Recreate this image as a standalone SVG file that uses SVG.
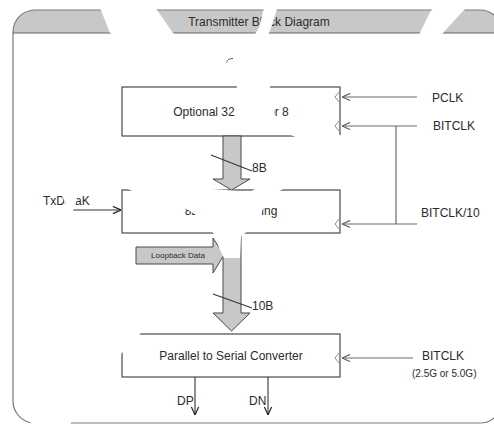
<svg xmlns="http://www.w3.org/2000/svg" width="494" height="425" viewBox="0 0 494 425">
<defs>
<style>
.box{fill:#fff;stroke:#4a4a4a;stroke-width:1.2}
.t{font-family:"Liberation Sans",Arial,sans-serif;fill:#2b2b2b;font-size:12px}
.clk{stroke:#6a6a6a;stroke-width:1.2;fill:none}
.chev{stroke:#8a8a8a;stroke-width:1;fill:none}
.big{fill:#c8c8c8;stroke:#4a4a4a;stroke-width:1}
.ln{stroke:#333;stroke-width:1.1;fill:none}
.wm{fill:#fff;stroke:none}
</style>
<marker id="ah" viewBox="0 0 10 10" refX="10" refY="5" markerWidth="9" markerHeight="9" markerUnits="userSpaceOnUse" orient="auto"><path d="M1,1 L10,5 L1,9" fill="none" stroke="#555" stroke-width="1.2"/></marker>
<marker id="ahd" viewBox="0 0 10 10" refX="10" refY="5" markerWidth="9" markerHeight="9" markerUnits="userSpaceOnUse" orient="auto"><path d="M1,1 L10,5 L1,9" fill="none" stroke="#222" stroke-width="1.3"/></marker>
</defs>
<rect width="494" height="425" fill="#fff"/>
<g id="frame">
<path d="M13,33 L13,32 A22,22 0 0 1 35,10 L480,10 A22,22 0 0 1 502,32 L502,33 Z" fill="#c8c8c8"/>
<rect x="13" y="10" width="489" height="413" rx="22" ry="22" fill="none" stroke="#7a7a7a" stroke-width="1.2"/>
<line x1="13" y1="33" x2="502" y2="33" stroke="#666" stroke-width="1.2"/>
<text class="t" x="259" y="26" text-anchor="middle">Transmitter Block Diagram</text>
<path d="M226.5,62.5 Q227.5,58.5 233,58.5" fill="none" stroke="#555" stroke-width="1"/>
</g>
<g id="box-optional">
<rect class="box" x="122" y="87" width="218" height="49"/>
<text class="t" x="231" y="116" text-anchor="middle">Optional 32 to 16 or 8</text>
<path class="chev" d="M339,92 L335,97 L339,102 M339,121 L335,126 L339,131"/>
</g>
<g id="box-encoding">
<rect class="box" x="122" y="190" width="218" height="43"/>
<text class="t" x="231" y="215" text-anchor="middle">8B/10B Encoding</text>
<path class="chev" d="M339,219 L335,224 L339,229"/>
</g>
<g id="box-p2s">
<rect class="box" x="122" y="334" width="218" height="43"/>
<text class="t" x="231" y="360" text-anchor="middle">Parallel to Serial Converter</text>
<path class="chev" d="M339,353 L335,358 L339,363"/>
</g>
<g id="connectors">
<path class="clk" d="M417,97 L342,97" marker-end="url(#ah)"/>
<path class="clk" d="M417,126 L342,126" marker-end="url(#ah)"/>
<path class="clk" d="M396,126 L396,224"/>
<path class="clk" d="M417,224 L342,224" marker-end="url(#ah)"/>
<path class="clk" d="M413,358 L342,358" marker-end="url(#ah)"/>
<path class="big" d="M223,136 L241,136 L241,179 L250,179 L231.5,190 L213,179 L223,179 Z"/>
<path class="big" d="M223,233 L241,233 L241,313 L250,313 L231.5,331 L213,313 L223,313 Z"/>
<path class="big" d="M136,247 L213,247 L213,238 L224,255 L213,273 L213,264 L136,264 Z"/>
<path class="ln" d="M211,155 L252,171 M213,294 L252,308"/>
<path class="ln" d="M72,210 L121,210" marker-end="url(#ahd)"/>
<path class="ln" d="M195,377 L195,415" marker-end="url(#ahd)"/>
<path class="ln" d="M268,377 L268,415" marker-end="url(#ahd)"/>
</g>
<g id="labels">
<text class="t" x="432" y="102">PCLK</text>
<text class="t" x="433" y="130">BITCLK</text>
<text class="t" x="421" y="217">BITCLK/10</text>
<text class="t" x="422" y="360">BITCLK</text>
<text class="t" x="412" y="377" style="font-size:10px">(2.5G or 5.0G)</text>
<text class="t" x="43" y="205">TxDataK</text>
<text class="t" x="252" y="172">8B</text>
<text class="t" x="252" y="310">10B</text>
<text class="t" x="177" y="405">DP</text>
<text class="t" x="249" y="405">DN</text>
<text class="t" x="178" y="258" text-anchor="middle" style="font-size:8px">Loopback Data</text>
</g>
<g id="watermark">
<polygon class="wm" points="97,0 150,0 173,33 213,58 226,70 240,76 236,84 220,82 178,62 110,33"/>
<polygon class="wm" points="266,0 280,0 271,28 266,40 246,68 236,74 250,42 259,28"/>
<polygon class="wm" points="440,0 476,0 462,12 443,33 405,70 390,80 350,83 392,55 420,33 430,12"/>
<polygon class="wm" points="238,78 268,78 272,96 274,104 274,118 300,126 325,131 340,135 352,140 353,158 340,166 318,172 295,183 280,190.5 270,198 266,204 261.5,212 260.5,220 252,228 241,236 240,258 224,258 219,248 216,236 203,222 197,216 190,211 184,208 130,190 50,143 14,101 14,94 213,189 250,192 260,186 272,176 282,164 290,150 294,141 298,138 288,134 262,126 236.5,120 235,100"/>
<polygon class="wm" points="14,101 50,143 77,199 73,211 80,235 100,262 125,291 166,305 140,334 121,354 100,376 82,399 70,425 32,425 24,412 18,385 17,350 22,318 33,280 45,246 57,216 66,204"/>
</g>
</svg>
